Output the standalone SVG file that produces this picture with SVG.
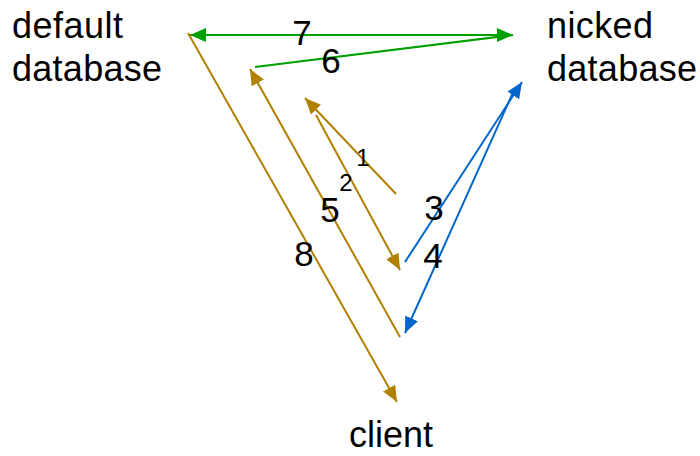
<svg xmlns="http://www.w3.org/2000/svg" width="700" height="456" viewBox="0 0 700 456">
<style>
.lbl{font-family:"Liberation Sans",Arial,sans-serif;font-size:36px;fill:#000}
.num{font-family:"Liberation Sans",Arial,sans-serif;font-size:35px;fill:#000;text-anchor:middle}
.sm{font-family:"Liberation Sans",Arial,sans-serif;font-size:24px;fill:#000;text-anchor:middle}
.g{stroke:#00a000;stroke-width:2;fill:none}
.o{stroke:#b08000;stroke-width:2;fill:none}
.b{stroke:#0066cc;stroke-width:2;fill:none}
</style>
<defs>
<marker id="ag" markerUnits="userSpaceOnUse" markerWidth="16" markerHeight="14" refX="16" refY="7" orient="auto"><path d="M0,0 L16,7 L0,14 Z" fill="#00a000"/></marker>
<marker id="ag0" markerUnits="userSpaceOnUse" markerWidth="16" markerHeight="14" refX="16" refY="7" orient="0"><path d="M0,0 L16,7 L0,14 Z" fill="#00a000"/></marker>
<marker id="ao" markerUnits="userSpaceOnUse" markerWidth="16" markerHeight="14" refX="16" refY="7" orient="auto"><path d="M0,0 L16,7 L0,14 Z" fill="#b08000"/></marker>
<marker id="ab" markerUnits="userSpaceOnUse" markerWidth="16" markerHeight="14" refX="16" refY="7" orient="auto"><path d="M0,0 L16,7 L0,14 Z" fill="#0066cc"/></marker>
</defs>
<g id="default-database"><text class="lbl" x="12" y="38" textLength="111">default</text><text class="lbl" x="12" y="81" textLength="150">database</text></g>
<g id="nicked-database"><text class="lbl" x="547" y="38" textLength="106">nicked</text><text class="lbl" x="547" y="81" textLength="150">database</text></g>
<g id="client"><text class="lbl" x="349" y="447">client</text></g>
<g id="connectors">
<line class="o" x1="396" y1="194" x2="305" y2="98" marker-end="url(#ao)"/>
<line class="o" x1="316" y1="115" x2="400" y2="270" marker-end="url(#ao)"/>
<line class="b" x1="405" y1="262" x2="522" y2="82" marker-end="url(#ab)"/>
<line class="b" x1="515" y1="88" x2="405" y2="333" marker-end="url(#ab)"/>
<line class="o" x1="400" y1="337" x2="250" y2="69" marker-end="url(#ao)"/>
<line class="g" x1="255" y1="67" x2="513" y2="35" marker-end="url(#ag0)"/>
<line class="g" x1="505" y1="35" x2="190" y2="35" marker-end="url(#ag)"/>
<line class="o" x1="188" y1="33" x2="397" y2="402" marker-end="url(#ao)"/>
<text class="sm" x="363" y="166">1</text>
<text class="sm" x="346" y="191">2</text>
<text class="num" x="434" y="220">3</text>
<text class="num" x="433" y="268">4</text>
<text class="num" x="330" y="222">5</text>
<text class="num" x="331" y="73">6</text>
<text class="num" x="302" y="45">7</text>
<text class="num" x="304" y="266">8</text>
</g>
</svg>
